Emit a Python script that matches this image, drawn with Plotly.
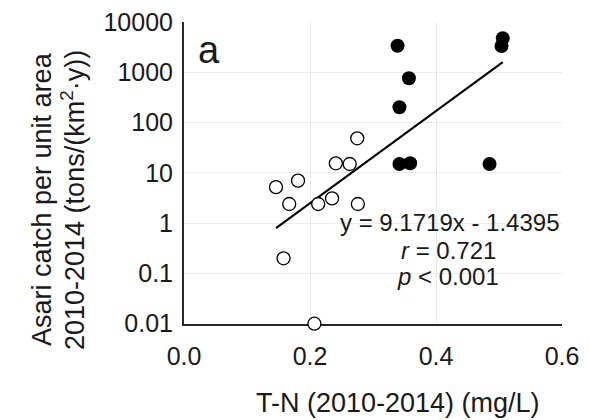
import plotly.graph_objects as go

# ---- data ----
open_x = [0.146, 0.181, 0.167, 0.213, 0.235, 0.276, 0.241, 0.263, 0.275, 0.158, 0.207]
open_y = [5.2, 7.0, 2.4, 2.4, 3.1, 2.4, 15.5, 15.0, 48.7, 0.2, 0.01]
filled_x = [0.339, 0.357, 0.342, 0.342, 0.359, 0.485, 0.506, 0.504]
filled_y = [3380, 760, 201, 15.0, 15.5, 15.0, 4740, 3330]
fit_slope = 9.1719
fit_intercept = -1.4395
fit_label = "y = 9.1719x - 1.4395"
r_label = "<i>r</i> = 0.721"
p_label = "<i>p</i> < 0.001"
y_tick_vals = [0.01, 0.1, 1, 10, 100, 1000, 10000]
y_tick_text = ["0.01", "0.1", "1", "10", "100", "1000", "10000"]
x_tick_vals = [0.0, 0.2, 0.4, 0.6]
x_tick_text = ["0.0", "0.2", "0.4", "0.6"]

# regression line over the data range (log10 y = slope*x + intercept)
all_x = open_x + filled_x
fx = [min(all_x), max(all_x)]
fy = [10 ** (fit_slope * v + fit_intercept) for v in fx]

W, H = 589, 420
L, R, T, B = 184, 27, 22, 96
pw, ph = W - L - R, H - T - B

def px(xp):
    return (xp - L) / pw

def py(yp):
    return 1 - (yp - T) / ph

FONT = "Liberation Sans, Arial, sans-serif"
TXT = "#1a1a1a"

fig = go.Figure()
fig.add_trace(go.Scatter(x=fx, y=fy, mode="lines",
                         line=dict(color="black", width=2), showlegend=False,
                         hoverinfo="skip"))
fig.add_trace(go.Scatter(x=open_x, y=open_y, mode="markers", cliponaxis=False,
                         marker=dict(size=13, color="white",
                                     line=dict(color="black", width=1.3)),
                         showlegend=False))
fig.add_trace(go.Scatter(x=filled_x, y=filled_y, mode="markers", cliponaxis=False,
                         marker=dict(size=14, color="black",
                                     line=dict(color="black", width=0)),
                         showlegend=False))

fig.update_layout(
    width=W, height=H,
    margin=dict(l=L, r=R, t=T, b=B, autoexpand=False),
    paper_bgcolor="white", plot_bgcolor="white",
    font=dict(family=FONT, color=TXT, size=24),
    xaxis=dict(range=[0, 0.6], tickvals=x_tick_vals, ticktext=x_tick_text,
               showgrid=True, gridcolor="#ebebeb", gridwidth=1,
               showline=True, linecolor="#2a2a2a", linewidth=2,
               ticks="outside", ticklen=9, tickcolor="rgba(0,0,0,0)",
               tickfont=dict(size=25), zeroline=False, automargin=False,
               layer="below traces"),
    yaxis=dict(type="log", range=[-2.006, 4], tickvals=y_tick_vals, ticktext=y_tick_text,
               showgrid=True, gridcolor="#ebebeb", gridwidth=1,
               showline=True, linecolor="#2a2a2a", linewidth=2,
               ticks="outside", ticklen=4, tickcolor="rgba(0,0,0,0)",
               tickfont=dict(size=25), zeroline=False, automargin=False,
               layer="below traces"),
)

ann = [
    dict(text="a", x=px(209), y=py(50), font=dict(size=38)),
    dict(text=fit_label, x=px(450), y=py(222), font=dict(size=24)),
    dict(text=r_label, x=px(448), y=py(250), font=dict(size=24)),
    dict(text=p_label, x=px(448), y=py(276), font=dict(size=24)),
    dict(text="T-N (2010-2014) (mg/L)", x=px(398), y=py(403), font=dict(size=27)),
    dict(text="Asari catch per unit area", x=px(42), y=py(199), textangle=-90,
         font=dict(size=27)),
    dict(text="2010-2014 (tons/(km<sup>2</sup>·y))", x=px(73), y=py(200), textangle=-90,
         font=dict(size=27)),
]
for a in ann:
    a.update(xref="paper", yref="paper", xanchor="center", yanchor="middle",
             showarrow=False)
    fig.add_annotation(**a)

fig.write_html("out.html", config={"displayModeBar": False},
               post_script="document.body.style.margin='0';document.body.style.overflow='hidden';")
